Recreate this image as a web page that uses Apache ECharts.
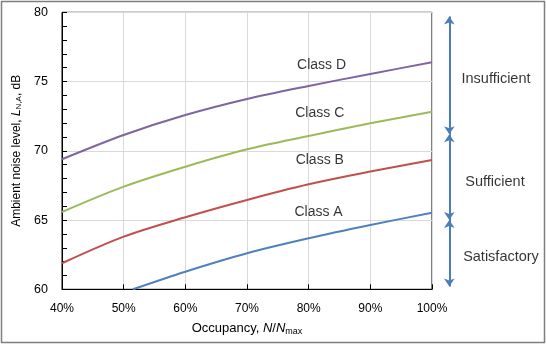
<!DOCTYPE html>
<html>
<head>
<meta charset="utf-8">
<script src="https://cdn.jsdelivr.net/npm/echarts@6/dist/echarts.min.js"></script>
<style>
  html, body { margin: 0; padding: 0; background: #fff; }
  #chart { width: 547px; height: 346px; }
</style>
</head>
<body>
<div id="chart"></div>
<script>
// Occupancy (% of N_max) and ambient noise level per acoustic class
const occupancy = [40, 50, 60, 70, 80, 90, 100];
const classD = [69.39, 71.14, 72.58, 73.74, 74.68, 75.55, 76.39];
const classC = [65.58, 67.41, 68.85, 70.11, 71.07, 71.99, 72.82];
const classB = [61.88, 63.80, 65.20, 66.45, 67.58, 68.50, 69.34];
const occupancyA = [51.5, 60, 70, 80, 90, 100];
const classA = [60.00, 61.27, 62.60, 63.68, 64.64, 65.53];

const classNames = ['Class D', 'Class C', 'Class B', 'Class A'];
const classColors = ['#8064a2', '#9bbb59', '#c0504d', '#4f81bd'];
const classLabelX = [82.1, 81.8, 81.8, 81.6];
const classLabelY = [76.17, 72.71, 69.34, 65.58];

// Rating bands on the right-hand scale (dB)
const bandEdges = [60.2, 65.0, 71.2, 79.7];
const ratingNames = ['Satisfactory', 'Sufficient', 'Insufficient'];
const ratingLabelX = [61, 55, 56];
const ratingLabelY = [62.33, 67.75, 75.18];

const arrowX = 9.3;
const font = 'Liberation Sans, Arial, sans-serif';

const pairs = (xs, ys) => xs.map((x, i) => [x, ys[i]]);

const curves = [
  pairs(occupancy, classD),
  pairs(occupancy, classC),
  pairs(occupancy, classB),
  pairs(occupancyA, classA)
];

const lineSeries = curves.map((data, i) => ({
  type: 'line',
  name: classNames[i],
  data: data,
  smooth: 0.3,
  showSymbol: false,
  clip: true,
  lineStyle: { color: classColors[i], width: 2 },
  itemStyle: { color: classColors[i] },
  z: 3
}));

const classLabels = {
  type: 'scatter',
  data: classNames.map((n, i) => ({ value: [classLabelX[i], classLabelY[i]], name: n })),
  symbolSize: 1,
  itemStyle: { color: 'rgba(0,0,0,0)' },
  label: {
    show: true, position: 'inside', formatter: p => p.name,
    color: '#000', fontFamily: font, fontSize: 14
  },
  z: 5
};

const arrowSegments = {
  type: 'lines',
  coordinateSystem: 'cartesian2d',
  xAxisIndex: 1, yAxisIndex: 1,
  symbol: ['arrow', 'arrow'],
  symbolSize: 8,
  lineStyle: { color: '#4a7ebb', width: 2, opacity: 1 },
  data: ratingNames.map((n, i) => ({
    coords: [[arrowX, bandEdges[i]], [arrowX, bandEdges[i + 1]]]
  }))
};

const ratingLabels = {
  type: 'scatter',
  xAxisIndex: 1, yAxisIndex: 1,
  data: ratingNames.map((n, i) => ({ value: [ratingLabelX[i], ratingLabelY[i]], name: n })),
  symbolSize: 1,
  itemStyle: { color: 'rgba(0,0,0,0)' },
  label: {
    show: true, position: 'inside', formatter: p => p.name,
    color: '#000', fontFamily: font, fontSize: 14.5
  }
};

const chart = echarts.init(document.getElementById('chart'), null, { renderer: 'canvas' });
chart.setOption({
  animation: false,
  backgroundColor: '#fff',
  graphic: [{
    type: 'rect',
    shape: { x: 1.5, y: 1.5, width: 543, height: 341 },
    style: { fill: 'none', stroke: '#7f7f7f', lineWidth: 1.5 },
    silent: true
  }],
  grid: [
    { left: 62, top: 12.3, width: 370, height: 277, show: true, borderColor: '#000', borderWidth: 1 },
    { left: 440, top: 12.3, width: 100, height: 277 }
  ],
  xAxis: [{
    type: 'value', min: 40, max: 100, interval: 10,
    name: '{t|Occupancy, }{i|N}{t|/}{i|N}{s|max}',
    nameLocation: 'middle', nameGap: 31,
    nameTextStyle: {
      rich: {
        t: { fontFamily: font, fontSize: 13, color: '#000', lineHeight: 16 },
        i: { fontFamily: font, fontSize: 13, fontStyle: 'italic', color: '#000', lineHeight: 16 },
        s: { fontFamily: font, fontSize: 9, color: '#000', lineHeight: 16, padding: [7, 0, 0, 0] }
      }
    },
    axisLine: { show: true, lineStyle: { color: '#000', width: 1 } },
    axisTick: { show: true, inside: true, length: 5, lineStyle: { color: '#000' } },
    axisLabel: { formatter: '{value}%', margin: 13, fontFamily: font, fontSize: 12, color: '#000' },
    splitLine: { show: true, lineStyle: { color: '#d9d9d9', width: 1 } }
  }, {
    type: 'value', gridIndex: 1, min: 0, max: 100, show: false
  }],
  yAxis: [{
    type: 'value', min: 60, max: 80, interval: 5,
    name: '{t|Ambient noise level, }{i|L}{s|N,A}{t|, dB}',
    nameLocation: 'middle', nameGap: 38, nameRotate: 90,
    nameTextStyle: {
      rich: {
        t: { fontFamily: font, fontSize: 12, color: '#000', lineHeight: 15 },
        i: { fontFamily: font, fontSize: 12, fontStyle: 'italic', color: '#000', lineHeight: 15 },
        s: { fontFamily: font, fontSize: 8, color: '#000', lineHeight: 15, padding: [6, 0, 0, 0] }
      }
    },
    axisLine: { show: true, lineStyle: { color: '#000', width: 1 } },
    axisTick: { show: false },
    axisLabel: { margin: 14, fontFamily: font, fontSize: 12.5, color: '#000' },
    splitLine: { show: true, lineStyle: { color: '#d9d9d9', width: 1 } }
  }, {
    type: 'value', gridIndex: 1, min: 60, max: 80, show: false
  }, {
    // 1 dB tick marks drawn inside the plot along the left axis
    type: 'value', gridIndex: 0, position: 'left', min: 60, max: 80, interval: 1,
    axisLine: { show: false },
    axisTick: { show: true, inside: true, length: 5, lineStyle: { color: '#000', width: 1 } },
    axisLabel: { show: false },
    splitLine: { show: false }
  }],
  series: lineSeries.concat([classLabels, arrowSegments, ratingLabels])
});
</script>
</body>
</html>
